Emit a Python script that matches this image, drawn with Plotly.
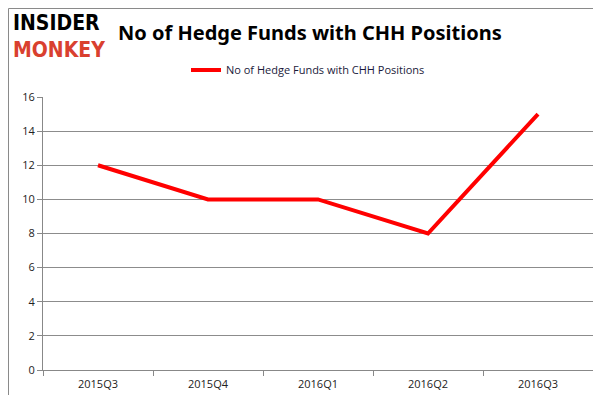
import plotly.graph_objects as go

quarters = ["2015Q3", "2015Q4", "2016Q1", "2016Q2", "2016Q3"]
funds = [12, 10, 10, 8, 15]
series_name = "No of Hedge Funds with CHH Positions"
title_text = "No of Hedge Funds with CHH Positions"
logo_top, logo_bottom = "INSIDER", "MONKEY"

W, H = 601, 395
L, R, T, B = 35, 16, 89, 33
pw, ph = W - L - R, H - T - B

def px(x):
    return (x - L) / pw

def py(y):
    return (H - B - y) / ph

fig = go.Figure()
fig.add_trace(go.Scatter(
    x=quarters, y=funds, mode="lines", name=series_name,
    line=dict(color="#ff0000", width=4),
))

fig.update_layout(
    width=W, height=H,
    margin=dict(l=L, r=R, t=T, b=B, autoexpand=False),
    paper_bgcolor="white", plot_bgcolor="white",
    font=dict(family="Open Sans", size=11, color="#222"),
    showlegend=True,
    legend=dict(orientation="h", x=px(178), y=py(62), xanchor="left", yanchor="middle",
                font=dict(size=11, color="#1a1a3a"), itemwidth=30, bgcolor="rgba(0,0,0,0)"),
    xaxis=dict(type="category", range=[-0.5, len(quarters) - 0.5], showgrid=False,
               showline=True, linecolor="#888", linewidth=1, automargin=False,
               ticks="outside", tickson="boundaries", ticklen=5, tickcolor="#888",
               ticklabelstandoff=4,
               tickfont=dict(size=11, color="#222"), fixedrange=True),
    yaxis=dict(range=[0, 16], dtick=2, showgrid=True, gridcolor="#8c8c8c", gridwidth=1,
               showline=True, linecolor="#888", linewidth=1, ticks="outside", ticklen=5,
               automargin=False,
               tickcolor="#888", zeroline=False, tickfont=dict(size=11, color="#222")),
)

fig.add_annotation(text="<b>" + title_text + "</b>", xref="paper", yref="paper",
                   x=px(108), y=py(25), xanchor="left", yanchor="middle", showarrow=False,
                   font=dict(family="Noto Sans", size=20, color="black"))
fig.add_annotation(
    text="<b>" + logo_top + "</b><br><span style='color:#d9402f'><b>" + logo_bottom + "</b></span>",
    xref="paper", yref="paper", x=px(3), y=py(29), xanchor="left", yanchor="middle",
    align="left", showarrow=False,
    font=dict(family="DejaVu Sans Condensed", size=21, color="black"))

fig.add_shape(type="rect", xref="paper", yref="paper",
              x0=px(0.5), x1=px(600.5), y0=py(394.5), y1=py(0.5),
              line=dict(color="#8a8a8a", width=1), fillcolor="rgba(0,0,0,0)", layer="below")

fig.write_html("out.html")
